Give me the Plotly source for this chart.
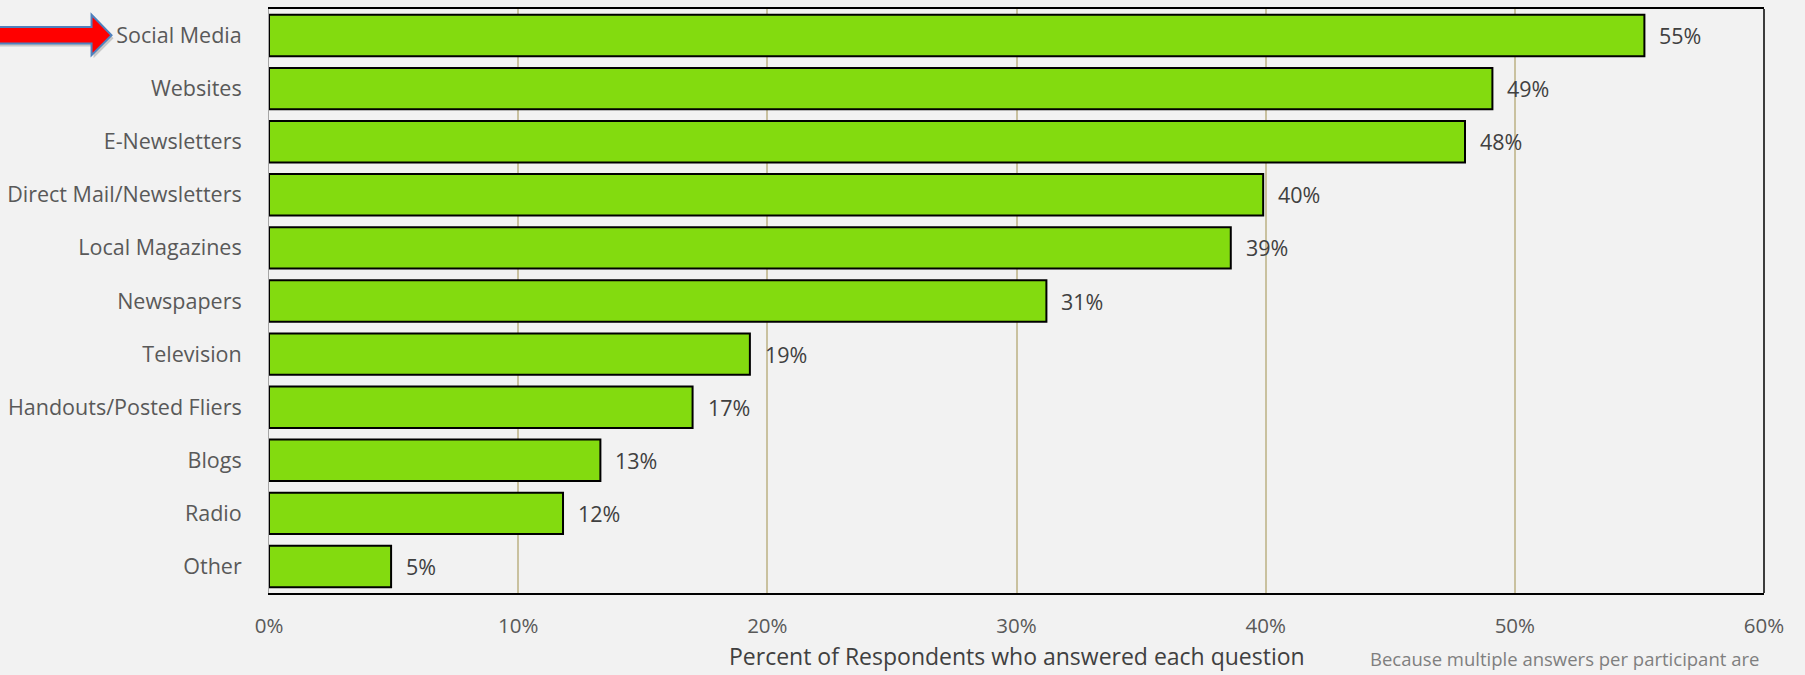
import plotly.graph_objects as go

categories = ["Social Media", "Websites", "E-Newsletters", "Direct Mail/Newsletters",
              "Local Magazines", "Newspapers", "Television", "Handouts/Posted Fliers",
              "Blogs", "Radio", "Other"]
values = [55.2, 49.1, 48.0, 39.9, 38.6, 31.2, 19.3, 17.0, 13.3, 11.8, 4.9]
tick_vals = [0, 10, 20, 30, 40, 50, 60]
tick_text = ["0%", "10%", "20%", "30%", "40%", "50%", "60%"]
axis_title = "Percent of Respondents who answered each question"
footnote = "Because multiple answers per participant are"

FONT = "Open Sans"
W, H = 1805, 675
L, R, T, B = 267, 1764, 7, 593
PW, PH = R - L, B - T


def px(x):
    return (x - L) / PW


def py(y):
    return (B - y) / PH


fig = go.Figure()
fig.add_trace(go.Bar(
    x=values, y=categories, orientation="h",
    marker=dict(color="#83DB0F", line=dict(color="#000000", width=2)),
    hoverinfo="x+y",
))

for v, c in zip(values, categories):
    fig.add_annotation(x=v, y=c, xref="x", yref="y", text=f"{v:.0f}%",
                       showarrow=False, xanchor="left", xshift=13,
                       font=dict(family=FONT, size=21.5, color="#404040"))

# axis title and footnote
fig.add_annotation(x=0.5, y=py(656), xref="paper", yref="paper", text=axis_title,
                   showarrow=False, xanchor="center", yanchor="middle",
                   font=dict(family=FONT, size=23, color="#404040"))
fig.add_annotation(x=px(1367), y=py(659), xref="paper", yref="paper", text=footnote,
                   showarrow=False, xanchor="left", yanchor="middle",
                   font=dict(family=FONT, size=18.5, color="#7f7f7f"))

# arrow pointing at "Social Media"
def arrow_path(dx=0, dy=0):
    pts = [(-10, 25), (89.3, 25), (89.3, 12.7), (109.3, 33.3), (89.3, 53.3),
           (89.3, 41.7), (-10, 41.7)]
    s = "M " + " L ".join(f"{px(x + dx):.5f},{py(y + dy):.5f}" for x, y in pts) + " Z"
    return s

fig.add_shape(type="path", path=arrow_path(2, 3), xref="paper", yref="paper",
              fillcolor="rgba(0,0,0,0.18)", line=dict(width=0), layer="above")
fig.add_shape(type="path", path=arrow_path(), xref="paper", yref="paper",
              fillcolor="#ff0000", line=dict(color="#4f81bd", width=2), layer="above")

# right border
fig.add_shape(type="line", xref="paper", yref="paper", x0=1, x1=1, y0=0, y1=1,
              line=dict(color="#000000", width=1.5), layer="above")

fig.update_layout(
    width=W, height=H,
    margin=dict(l=L, r=W - R, t=T, b=H - B, pad=0),
    paper_bgcolor="#f2f2f2", plot_bgcolor="#f2f2f2",
    bargap=0.22, showlegend=False,
    font=dict(family=FONT, size=20, color="#595959"),
)
fig.update_xaxes(
    range=[0, 60], tickvals=tick_vals, ticktext=tick_text,
    showgrid=True, gridcolor="#c9c19f", gridwidth=1.5, zeroline=False,
    showline=True, mirror=True, linecolor="#000000", linewidth=1.5,
    ticks="outside", ticklen=0, ticklabelstandoff=14,
    tickfont=dict(family=FONT, size=20.5, color="#595959"),
)
fig.update_yaxes(
    autorange="reversed", showgrid=False, zeroline=False,
    showline=True, linecolor="#a6a6a6", linewidth=1,
    ticks="outside", ticklen=0, ticklabelstandoff=22,
    tickfont=dict(family=FONT, size=21.5, color="#595959"),
)

fig.write_html("out.html", config={"displayModeBar": False},
               post_script="document.body.style.margin='0';document.body.style.overflow='hidden';")
